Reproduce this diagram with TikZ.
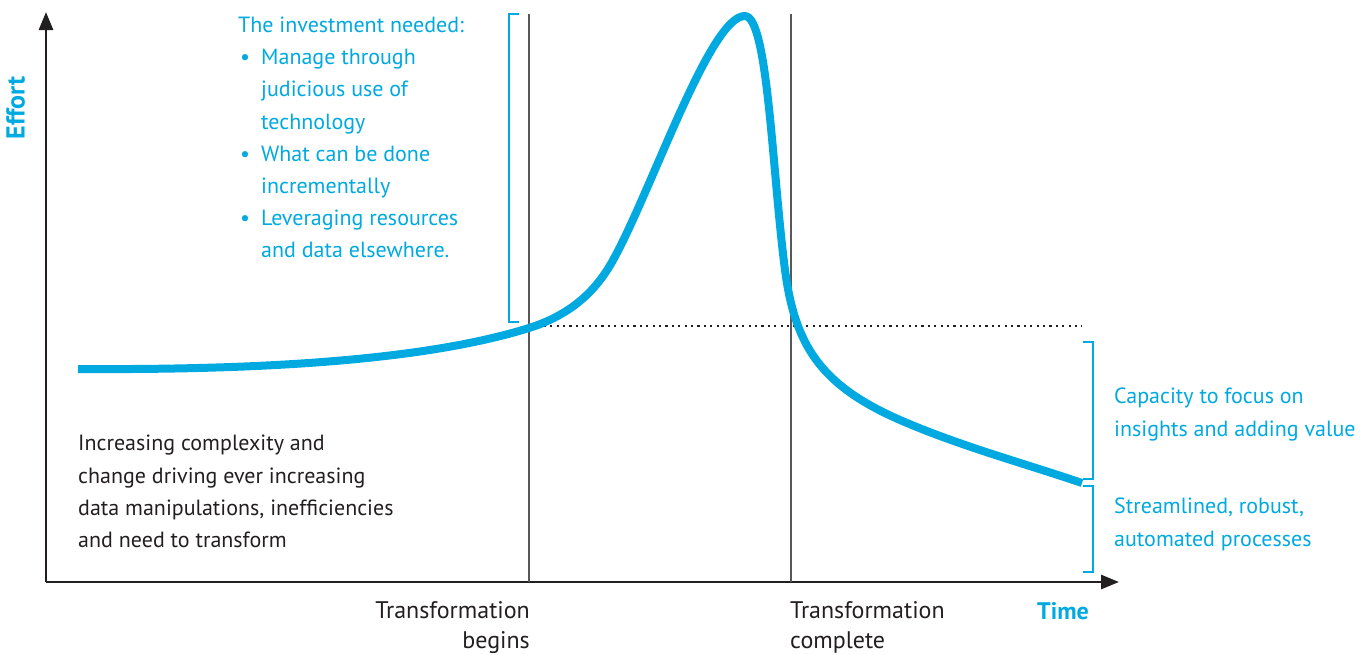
\documentclass[tikz,border=0pt]{standalone}
\usepackage{fontspec}
\setmainfont{PT Sans}
\usetikzlibrary{arrows.meta}
\definecolor{dblue}{HTML}{00A9E0}
\definecolor{dtext}{HTML}{231F20}
\definecolor{vgray}{HTML}{58585A}
\tikzset{
  txt/.style={inner sep=0pt, anchor=base west, align=left, font=\fontsize{22}{32.2}\selectfont},
  btxt/.style={txt, text=dblue},
  ktxt/.style={txt, text=dtext},
  lbl/.style={ktxt, font=\fontsize{24}{29.5}\selectfont},
  axlbl/.style={inner sep=0pt, text=dblue, font=\fontsize{24}{26}\selectfont\bfseries},
  axis/.style={line width=2.8pt, draw=dtext, -{Triangle[length=18pt,width=14pt]}},
  vline/.style={line width=2.6pt, draw=vgray},
  brace/.style={line width=2.8pt, draw=dblue},
  curve/.style={line width=8pt, draw=dblue},
  dotline/.style={line width=2.2pt, draw=dtext, dash pattern=on 2.2pt off 4.2pt},
}
\begin{document}
\begin{tikzpicture}[x=1pt,y=-1pt]
\useasboundingbox (0,0) rectangle (1366,654);
% axes
\coordinate (O) at (46,582);
\coordinate (ytop) at (46,12);
\coordinate (xend) at (1119,582);
\draw[axis] (O) -- (ytop);
\draw[axis] (O) -- (xend);
\node[axlbl, anchor=base, rotate=90, font=\fontsize{26}{28}\selectfont\bfseries] (effort) at (24.5,108) {Effort};
\node[axlbl, anchor=base west] (time) at (1037,619) {Time};
% vertical lines
\coordinate (b1) at (529,582); \coordinate (t1) at (529,14);
\coordinate (b2) at (791,582); \coordinate (t2) at (791,14);
\draw[vline] (b1) -- (t1);
\draw[vline] (b2) -- (t2);
% dotted line
\coordinate (d1) at (531,326); \coordinate (d2) at (1082,326);
\draw[dotline] (d1) -- (d2);
% brackets
\coordinate (lb1) at (519,14); \coordinate (lb2) at (519,322);
\draw[brace] (lb1) -- ++(-10,0) |- (lb2);
\coordinate (rb1) at (1083,342); \coordinate (rb2) at (1083,479);
\draw[brace] (rb1) -- ++(10,0) |- (rb2);
\coordinate (rc1) at (1083,486); \coordinate (rc2) at (1083,572);
\draw[brace] (rc1) -- ++(10,0) |- (rc2);
% curve
\coordinate (c0) at (78,369);
\coordinate (c1) at (529,328);
\coordinate (c2) at (612,262);
\coordinate (c3) at (745,16);
\coordinate (c4) at (785,270);
\coordinate (c5) at (900,420);
\coordinate (c6) at (1082,483);
\draw[curve] (c0) .. controls (250,370) and (420,362) .. (c1)
  .. controls (570,315) and (595,292) .. (c2)
  .. controls (650,195) and (710,15) .. (c3)
  .. controls (768,17) and (772,170) .. (c4)
  .. controls (795,345) and (820,385) .. (c5)
  .. controls (960,446) and (1020,462) .. (c6);
% investment text (multi-line nodes are placed by the baseline of their last line)
\node[btxt] (inv) at (238,32.3) {The investment needed:};
\node[btxt] (bu1) at (240,64.5) {\textbullet};
\node[btxt] (it1) at (261,129) {Manage through\\judicious use of\\technology};
\node[btxt] (bu2) at (240,161) {\textbullet};
\node[btxt] (it2) at (261,193.2) {What can be done\\incrementally};
\node[btxt] (bu3) at (240,225.4) {\textbullet};
\node[btxt] (it3) at (261,257.6) {Leveraging resources\\and data elsewhere.};
% left text
\node[ktxt] (left) at (78,547.5) {Increasing complexity and\\change driving ever increasing\\data manipulations, inefficiencies\\and need to transform};
% right texts
\node[btxt] (cap) at (1114,436) {Capacity to focus on\\insights and adding value};
\node[btxt] (str) at (1114,546) {Streamlined, robust,\\automated processes};
% bottom labels
\node[lbl, anchor=base east, align=right] (tb) at (530,648) {Transformation\\begins};
\node[lbl] (tc) at (790,648) {Transformation\\complete};
\end{tikzpicture}
\end{document}
